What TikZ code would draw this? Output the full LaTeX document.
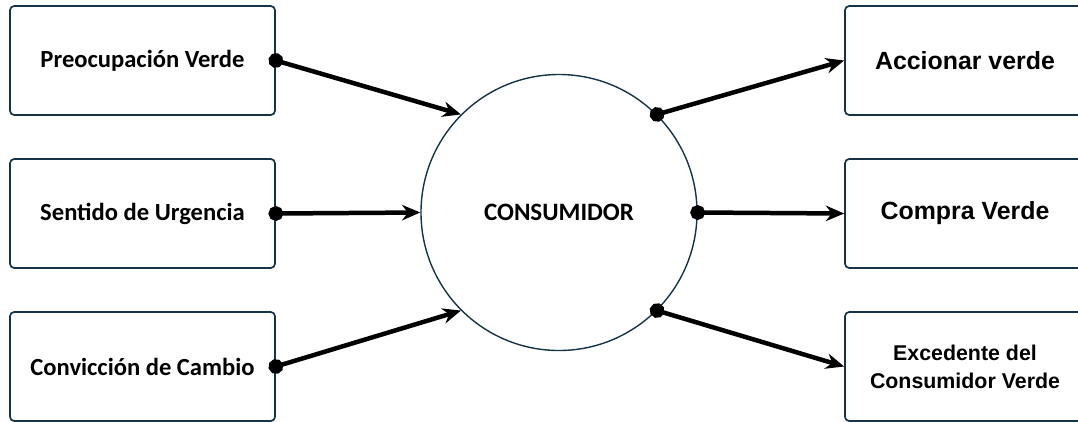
\documentclass[tikz,border=0pt]{standalone}
\usepackage{fontspec}
\setmainfont{Liberation Sans}
\newfontfamily\narrowfont{Carlito}
\usetikzlibrary{shapes.geometric, arrows.meta, calc}
\definecolor{boxline}{RGB}{22,52,72}

\begin{document}
\begin{tikzpicture}[node distance=3.825cm]
    \tikzstyle{factor} = [rectangle, rounded corners=3pt, minimum width=6.625cm, minimum height=2.725cm, text centered, draw=boxline, line width=1.2pt, font=\narrowfont\bfseries\fontsize{17.5}{20}\selectfont]
    \tikzstyle{outcome} = [rectangle, rounded corners=3pt, minimum width=6cm, minimum height=2.725cm, text centered, align=center, draw=boxline, line width=1.2pt, font=\bfseries\fontsize{17.7}{20}\selectfont]
    \tikzstyle{consumer} = [circle, minimum size=6.9cm, inner sep=0pt, draw=boxline, line width=1pt, font=\narrowfont\bfseries\fontsize{17.8}{20}\selectfont]
    \tikzstyle{arrow} = [line width=3.2pt, {Circle[length=10.5pt]}-{Stealth[length=13pt,width=11pt]}, shorten <=-5.25pt]

    \useasboundingbox (-3.5625,1.5125) rectangle (23.3875,-9.0125);

    \node (pv) [factor] {Preocupación Verde};
    \node (su) [factor, below of=pv] {Sentido de Urgencia};
    \node (cc) [factor, below of=su] {Convicción de Cambio};
    \node (cons) [consumer, right of=su, xshift=6.5875cm, yshift=0.025cm] {CONSUMIDOR};
    \node (av) [outcome, right of=pv, xshift=16.7375cm] {Accionar verde};
    \node (cv) [outcome, below of=av] {Compra Verde};
    \node (ecv) [outcome, below of=cv, font=\bfseries\fontsize{15.2}{20}\selectfont] {Excedente del\\Consumidor Verde};

    \draw [arrow] (pv.east) -- (cons.135);
    \draw [arrow] (su.east) -- (cons.west);
    \draw [arrow] (cc.east) -- (cons.225);
    \draw [arrow] (cons.45) -- (av.west);
    \draw [arrow] (cons.east) -- (cv.west);
    \draw [arrow] (cons.-45) -- (ecv.west);
\end{tikzpicture}
\end{document}
